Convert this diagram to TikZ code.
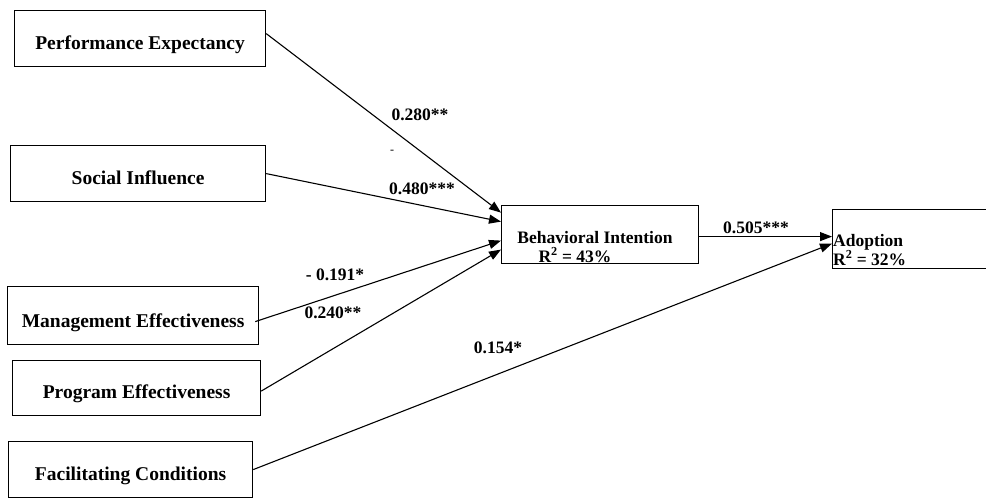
\documentclass[tikz,border=0pt]{standalone}
\usepackage{fontspec}
\setmainfont{Liberation Serif}
\usetikzlibrary{arrows.meta, positioning}

\tikzset{
	construct/.style={draw, line width=1.2pt, anchor=north west, inner sep=0pt,
		text depth=17pt, text height=39pt,
		font=\fontsize{19.5}{22}\selectfont\bfseries},
	target/.style={draw, line width=1.2pt, anchor=north west, inner sep=0pt},
	inside/.style={inner sep=0pt, font=\fontsize{17.5}{20}\selectfont\bfseries},
	coef/.style={inner sep=0pt, font=\fontsize{17.5}{20}\selectfont\bfseries},
	path/.style={line width=1.1pt, -{Triangle[length=12pt, width=9pt]}}
}

\begin{document}
\begin{tikzpicture}[x=1pt, y=-1pt]
			\useasboundingbox (0,0) rectangle (986,498);
			\clip (0,0) rectangle (986,498);
			% Exogenous constructs
			\node[construct, minimum width=251pt] (pe) at (14,10) {Performance Expectancy};
			\node[construct, minimum width=255pt] (si) at (10,145) {Social Influence};
			\node[construct, minimum width=251pt, text height=41pt] (me) at (7,286) {Management Effectiveness};
			\node[construct, minimum width=248pt, text height=38pt] (pr) at (12,360) {Program Effectiveness};
			\node[construct, minimum width=244pt] (fc) at (8,441) {Facilitating Conditions};
			% Behavioral intention
			\node[target, minimum width=197pt, minimum height=58pt] (bi) at (501,205) {};
			\node[inside, anchor=base] (biname) at (595,243) {Behavioral Intention};
			\node[inside, anchor=base] (bir) at (575,262) {R\textsuperscript{2} = 43\%};
			% Adoption
			\node[target, minimum width=180pt, minimum height=59pt] (ad) at (832,209) {};
			\node[inside, anchor=base west] (adname) at (833,246) {Adoption};
			\node[inside, anchor=base west] (adr) at (833,265) {R\textsuperscript{2} = 32\%};
			% Paths
			\draw[path] ([yshift=5pt]pe.east) -- ([yshift=22pt]bi.west);
			\draw[path] (si.east) -- ([yshift=13pt]bi.west);
			\draw[path] ([xshift=-4pt, yshift=-6pt]me.east) -- ([yshift=-6pt]bi.west);
			\draw[path] ([yshift=-3pt]pr.east) -- ([yshift=-15pt]bi.west);
			\draw[path] ([yshift=-2pt]bi.east) -- ([yshift=2.5pt]ad.west);
			\draw[path] (fc.east) -- ([yshift=-4.5pt]ad.west);
			% Path coefficients
			\node[coef] (c1) at (420,115) {0.280**};
			\node[inner sep=0pt, font=\fontsize{12}{14}\selectfont] (c1dash) at (392,152) {-};
			\node[coef] (c2) at (422,189) {0.480***};
			\node[coef] (c3) at (335,275) {- 0.191*};
			\node[coef] (c4) at (333,313) {0.240**};
			\node[coef] (c5) at (756,228) {0.505***};
			\node[coef] (c6) at (498,348) {0.154*};
		\end{tikzpicture}
\end{document}
